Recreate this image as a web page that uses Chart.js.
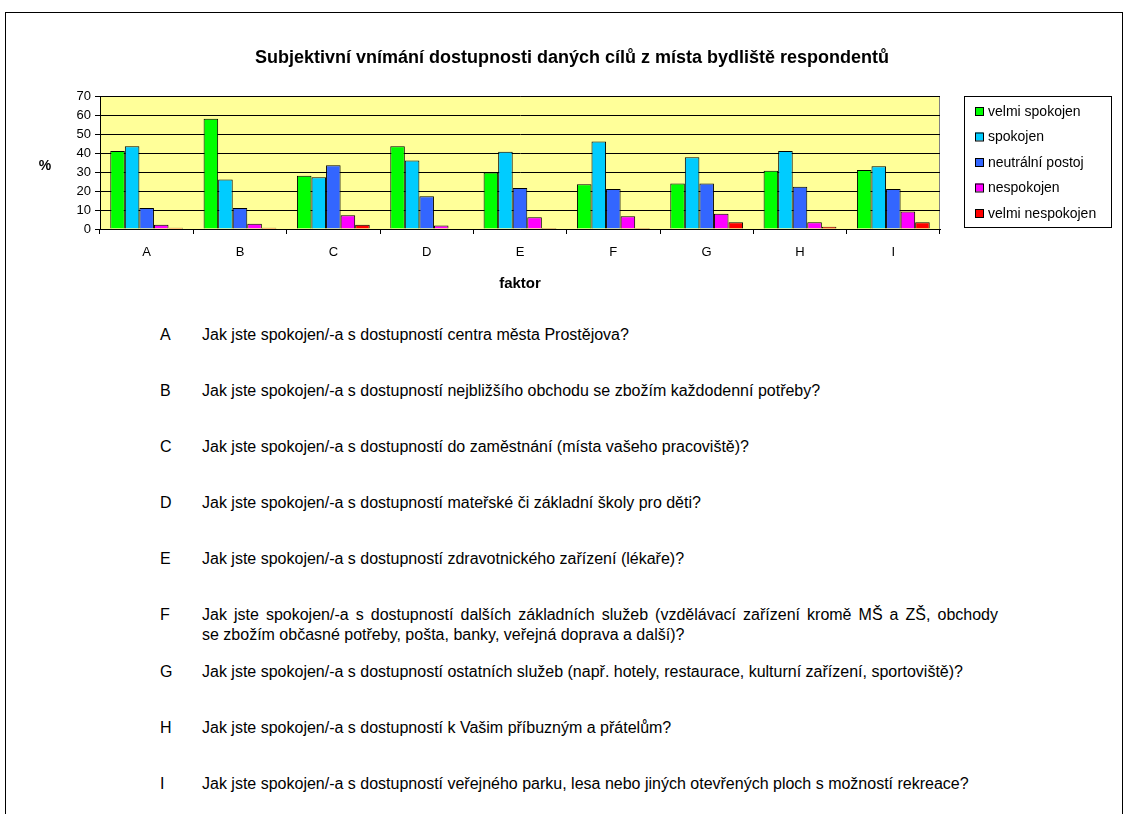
<!DOCTYPE html>
<html>
<head>
<meta charset="utf-8">
<script src="https://cdn.jsdelivr.net/npm/chart.js@4.4.1/dist/chart.umd.min.js"></script>
<style>
  body { margin: 0; background: #fff; font-family: "Liberation Sans", Arial, sans-serif; }
  #frame { position: absolute; left: 5px; top: 12px; width: 1116px; height: 810px; border: 1px solid #000; border-bottom: none; }
  #wrap { position: absolute; left: 0; top: 0; width: 1126px; height: 300px; }
  .q { position: absolute; font-size: 16px; color: #000; line-height: 20px; }
  .q .k { position: absolute; left: 0; width: 20px; }
  .q .t { position: absolute; left: 42px; width: 796px; }
  .q .t .full { text-align: justify; text-align-last: justify; }
</style>
</head>
<body>
<div id="frame"></div>
<div id="wrap"><canvas id="ch"></canvas></div>
<div id="questions"></div>
<script>
/* ---------- data ---------- */
const CATEGORIES = ['A', 'B', 'C', 'D', 'E', 'F', 'G', 'H', 'I'];
const SERIES_NAMES = ['velmi spokojen', 'spokojen', 'neutrální postoj', 'nespokojen', 'velmi nespokojen'];
const VELMI_SPOKOJEN = [41, 58, 28, 43.5, 29.7, 23.5, 24, 30.6, 31.1];
const SPOKOJEN = [43.5, 26, 27.2, 36, 40.6, 46, 37.8, 41, 33];
const NEUTRALNI = [11, 11, 33.6, 17.3, 21.6, 21, 24, 22.3, 21];
const NESPOKOJEN = [2.3, 2.8, 7.2, 1.8, 6.2, 6.7, 8, 3.5, 9.2];
const VELMI_NESPOKOJEN = [0.7, 0.7, 2.3, 0, 0.5, 0.5, 3.5, 1.2, 3.5];
const Y_TICKS = [0, 10, 20, 30, 40, 50, 60, 70];
const COLORS = ['#00ff00', '#00ccff', '#3366ff', '#ff00ff', '#ff0000'];
const TITLE = 'Subjektivní vnímání dostupnosti daných cílů z místa bydliště respondentů';

// '|' marks where a long question wraps in the original document
const QUESTIONS = [
  'Jak jste spokojen/-a s dostupností centra města Prostějova?',
  'Jak jste spokojen/-a s dostupností nejbližšího obchodu se zbožím každodenní potřeby?',
  'Jak jste spokojen/-a s dostupností do zaměstnání (místa vašeho pracoviště)?',
  'Jak jste spokojen/-a s dostupností mateřské či základní školy pro děti?',
  'Jak jste spokojen/-a s dostupností zdravotnického zařízení (lékaře)?',
  'Jak jste spokojen/-a s dostupností dalších základních služeb (vzdělávací zařízení kromě MŠ a ZŠ, obchody|se zbožím občasné potřeby, pošta, banky, veřejná doprava a další)?',
  'Jak jste spokojen/-a s dostupností ostatních služeb (např. hotely, restaurace, kulturní zařízení, sportoviště)?',
  'Jak jste spokojen/-a s dostupností k Vašim příbuzným a přátelům?',
  'Jak jste spokojen/-a s dostupností veřejného parku, lesa nebo jiných otevřených ploch s možností rekreace?'
];
const Q_TOPS = [325, 381, 437, 493, 549, 605, 662, 718, 774];

/* ---------- question list ---------- */
const qEl = document.getElementById('questions');
qEl.innerHTML = QUESTIONS.map((q, i) => {
  const lines = q.split('|');
  const body = lines
    .map((ln, j) => `<div class="${j < lines.length - 1 ? 'full' : ''}">${ln}</div>`)
    .join('');
  return `
  <div class="q" style="left:160px;top:${Q_TOPS[i]}px">
    <span class="k">${CATEGORIES[i]}</span><div class="t">${body}</div>
  </div>`;
}).join('');

/* ---------- chart ---------- */
const FONT = '"Liberation Sans", Arial, sans-serif';
const series = [VELMI_SPOKOJEN, SPOKOJEN, NEUTRALNI, NESPOKOJEN, VELMI_NESPOKOJEN];

const decor = {
  id: 'decor',
  beforeDraw(chart) {
    const { ctx, chartArea: a } = chart;
    ctx.save();
    ctx.fillStyle = '#ffff99';
    ctx.fillRect(a.left, a.top, a.right - a.left, a.bottom - a.top);
    ctx.strokeStyle = '#808080';
    ctx.lineWidth = 1;
    ctx.beginPath();
    ctx.moveTo(a.left, a.top + 0.5);
    ctx.lineTo(a.right - 0.5, a.top + 0.5);
    ctx.lineTo(a.right - 0.5, a.bottom);
    ctx.stroke();
    ctx.restore();
  },
  afterDraw(chart) {
    const { ctx, chartArea: a } = chart;
    ctx.save();
    ctx.fillStyle = '#000';
    ctx.textAlign = 'center';
    ctx.textBaseline = 'middle';
    ctx.font = 'bold 18px ' + FONT;
    ctx.fillText(TITLE, 572, 58);
    ctx.font = 'bold 14px ' + FONT;
    ctx.fillText('%', 45, 166);
    ctx.font = 'bold 15px ' + FONT;
    ctx.fillText('faktor', (a.left + a.right) / 2, 284);

    // legend box
    ctx.strokeStyle = '#000';
    ctx.lineWidth = 1;
    ctx.strokeRect(964.5, 96.5, 147, 131);
    ctx.font = '14px ' + FONT;
    ctx.textAlign = 'left';
    chart.data.datasets.forEach((ds, i) => {
      const y = 111 + i * 25.5;
      ctx.fillStyle = ds.backgroundColor;
      ctx.fillRect(975, y - 4, 8, 8);
      ctx.strokeRect(975.5, y - 3.5, 8, 8);
      ctx.fillStyle = '#000';
      ctx.fillText(ds.label, 988, y + 1);
    });
    ctx.restore();
  }
};

new Chart(document.getElementById('ch'), {
  type: 'bar',
  data: {
    labels: CATEGORIES,
    datasets: SERIES_NAMES.map((name, i) => ({
      label: name,
      data: series[i],
      backgroundColor: COLORS[i],
      borderColor: '#000',
      borderWidth: 1,
      borderSkipped: 'bottom',
      categoryPercentage: 0.78,
      barPercentage: 1.0
    }))
  },
  options: {
    responsive: true,
    maintainAspectRatio: false,
    animation: false,
    layout: { padding: { left: 60, right: 186, top: 96, bottom: 0 } },
    plugins: { legend: { display: false }, tooltip: { enabled: false } },
    scales: {
      x: {
        afterFit: (s) => { s.height = 71; },
        grid: { offset: true, drawOnChartArea: false, color: '#000', tickLength: 5, tickColor: '#000' },
        border: { color: '#000' },
        ticks: { color: '#000', font: { family: FONT, size: 13 }, padding: 11 }
      },
      y: {
        min: 0,
        max: 70,
        afterFit: (s) => { s.width = 40; },
        afterBuildTicks: (s) => { s.ticks = Y_TICKS.map((v) => ({ value: v })); },
        grid: { color: '#000', tickLength: 5, tickColor: '#000' },
        border: { color: '#000' },
        ticks: { color: '#000', font: { family: FONT, size: 13 }, padding: 4 }
      }
    }
  },
  plugins: [decor]
});
</script>
</body>
</html>
